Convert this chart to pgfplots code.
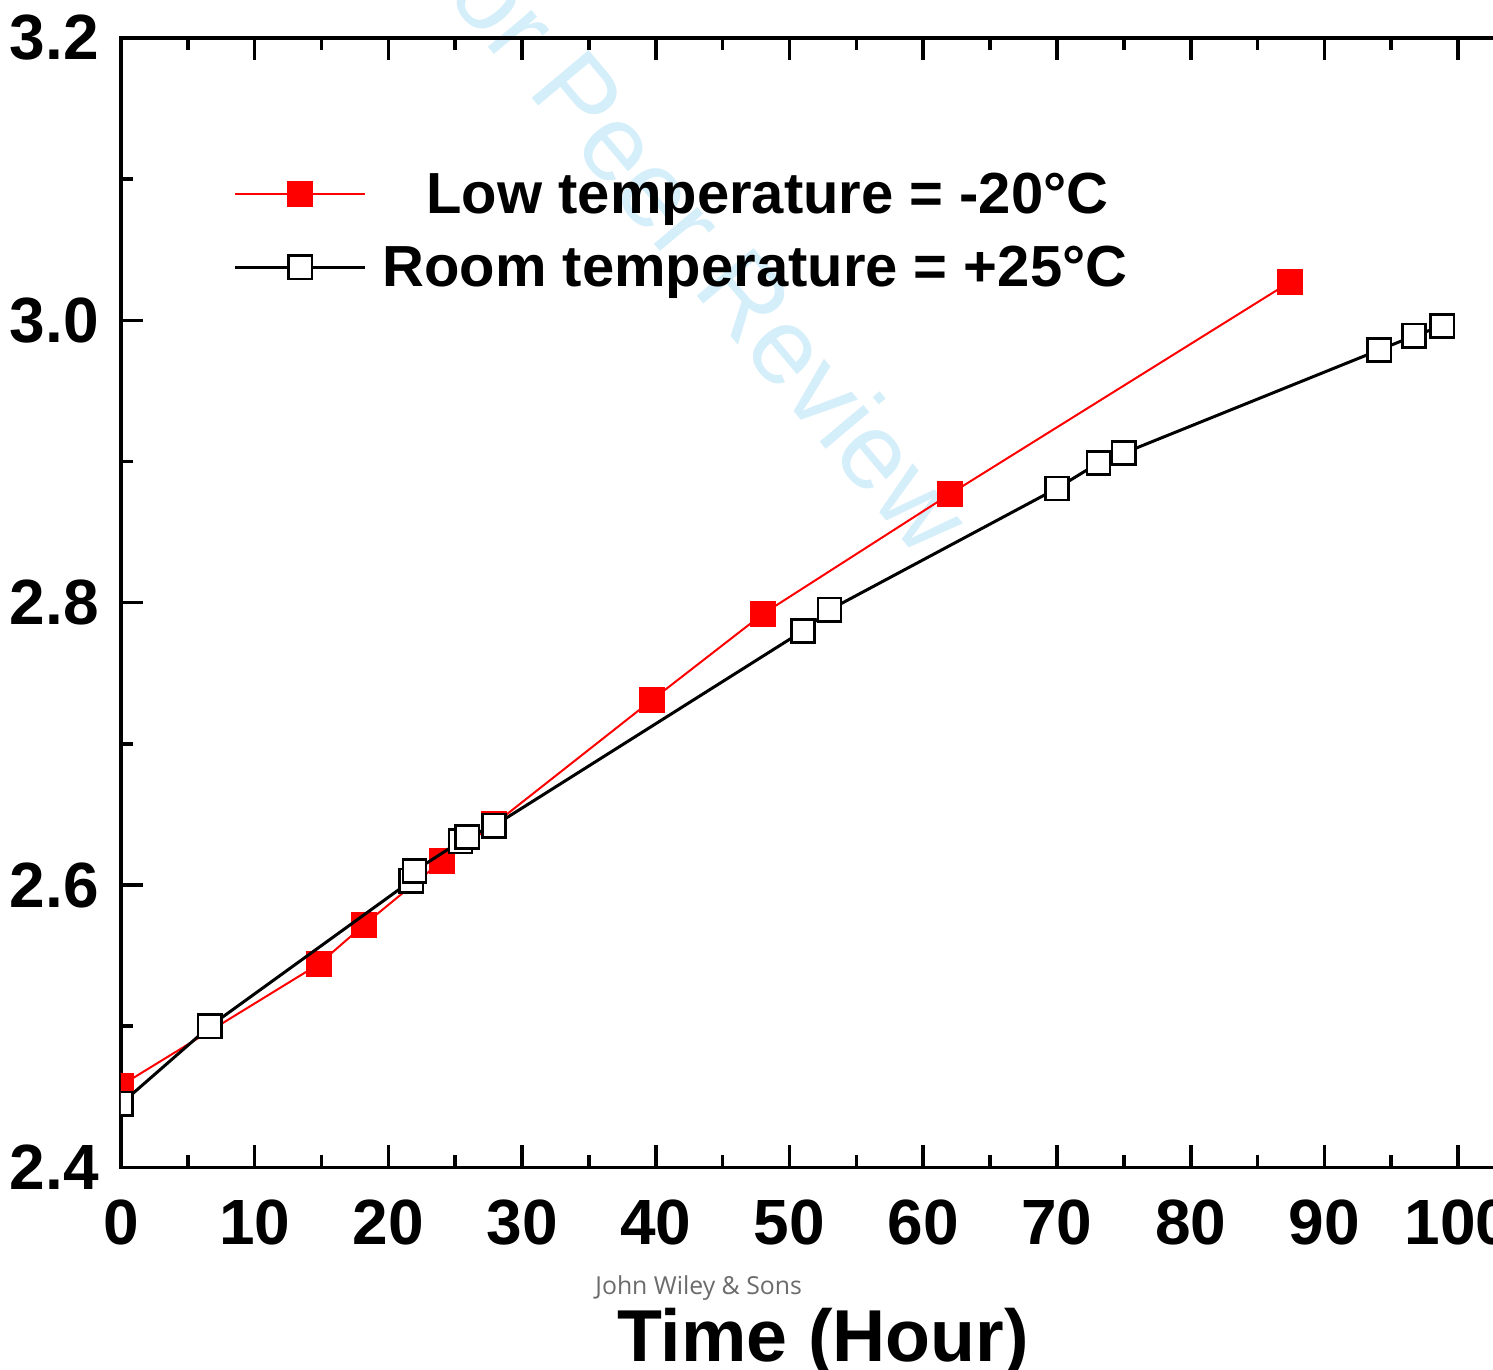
\documentclass[border=0pt]{standalone}
\usepackage{fontspec}
\setmainfont{Liberation Sans}
\newfontfamily\wileyfont{Open Sans}
\usepackage{pgfplots}
\pgfplotsset{compat=1.18}
\definecolor{wm}{RGB}{212,238,250}
\definecolor{myred}{RGB}{255,0,0}

\begin{document}
\begin{tikzpicture}
\node[rotate=-50, text=wm, font=\fontsize{27}{27}\selectfont] at (142.5pt,235pt) {For Peer Review};
\node[text=black!58, font=\wileyfont\fontsize{6.2}{7}\selectfont] at (144.5pt,-30.25pt) {John Wiley \& Sons};
\begin{axis}[
 scale only axis, width=351.2pt, height=282.5pt,
 xmin=0, xmax=105, ymin=2.4, ymax=3.2,
 xtick={0,10,...,100}, minor x tick num=1,
 ytick={2.4,2.6,2.8,3.0,3.2}, minor y tick num=1,
 tick align=inside, tick pos=both,
 major tick length=5.5pt, minor tick length=3pt,
 axis line style={line width=0.9pt},
 tick style={line width=0.9pt, black},
 minor tick style={line width=0.9pt, black},
 /pgf/number format/assume math mode=true,
 ticklabel style={font=\bfseries\fontsize{16}{16}\selectfont},
 xticklabel style={anchor=base, yshift=-19.25pt},
 yticklabel style={xshift=-2pt, /pgf/number format/.cd, fixed, fixed zerofill, precision=1},
 xlabel={Time (Hour)},
 xlabel style={at={(axis description cs:0.5,0)}, anchor=base, yshift=-48.5pt, font=\bfseries\fontsize{18.4}{18.4}\selectfont},
 clip marker paths=true,
 legend image code/.code={\draw[mark repeat=2,mark phase=2,#1] plot coordinates {(0pt,1.1pt) (16.25pt,1.1pt) (32.5pt,1.1pt)};},
 legend cell align=left,
 legend style={draw=none, fill=none, inner sep=0pt, at={(axis cs:8.37,3.1075)}, anchor=north west,
   font=\bfseries\fontsize{14.5}{14.5}\selectfont, row sep=3.65pt, column sep=3.5pt,
   nodes={inner sep=0.5pt, text height=10.6pt, text depth=3pt}},
]
\addplot[myred, line width=0.5pt, mark=square*, mark size=3.1pt, mark options={fill=myred, draw=myred, line width=0.3pt}] coordinates {
(0,2.458) (14.8,2.544) (18.2,2.572) (24.0,2.617) (27.9,2.643) (39.7,2.731) (48.0,2.792) (62.0,2.877) (87.4,3.027)};
\addlegendentry{\hspace*{11pt}Low temperature = -20°C}
\addplot[black, line width=0.75pt, mark=square*, mark size=2.9pt, mark options={fill=white, draw=black, line width=0.6pt}] coordinates {
(0,2.445) (6.65,2.500) (21.7,2.603) (21.95,2.610) (25.4,2.631) (25.9,2.634) (27.9,2.642) (51.0,2.780) (53.0,2.795) (70.0,2.881) (73.1,2.899) (75.0,2.906) (94.1,2.979) (96.7,2.989) (98.8,2.996)};
\addlegendentry{Room temperature = +25°C}
\end{axis}
\pgfresetboundingbox
\useasboundingbox ([shift={(-30.25pt,-50.5pt)}]current axis.south west) rectangle ([shift={(343.2pt,292pt)}]current axis.south west);
\end{tikzpicture}
\end{document}
